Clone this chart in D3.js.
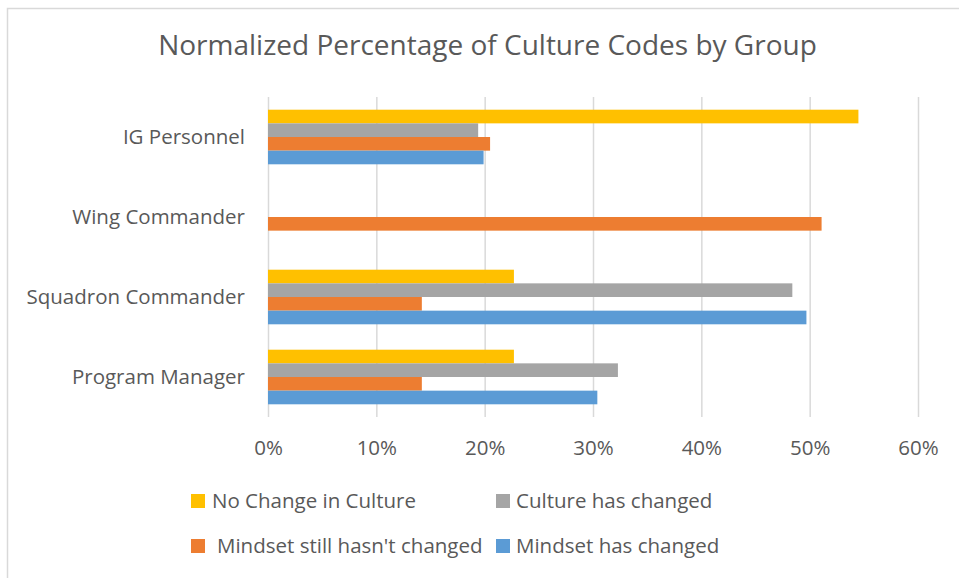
<!DOCTYPE html>
<html>
<head>
<meta charset="utf-8">
<script src="https://cdn.jsdelivr.net/npm/d3@7"></script>
<style>
  html, body { margin: 0; padding: 0; background: #fff; }
  svg { display: block; font-family: "Open Sans", sans-serif; }
</style>
</head>
<body>
<svg id="chart" width="959" height="578"></svg>
<script>
// ---- data ----
const categories = ["IG Personnel", "Wing Commander", "Squadron Commander", "Program Manager"];
const seriesNames = ["No Change in Culture", "Culture has changed", "Mindset still hasn't changed", "Mindset has changed"];
const noChangeInCulture = [0.545, 0, 0.227, 0.227];
const cultureHasChanged = [0.194, 0, 0.484, 0.323];
const mindsetStillNotChanged = [0.205, 0.511, 0.142, 0.142];
const mindsetHasChanged = [0.199, 0, 0.497, 0.304];
const tickValues = [0, 0.1, 0.2, 0.3, 0.4, 0.5, 0.6];
const colors = ["#FFC000", "#A5A5A5", "#ED7D31", "#5B9BD5"];

const seriesValues = [noChangeInCulture, cultureHasChanged, mindsetStillNotChanged, mindsetHasChanged];

const svg = d3.select("#chart");
const textColor = "#595959";

// outer chart border
svg.append("rect")
  .attr("x", 7.5).attr("y", 8.5)
  .attr("width", 1000).attr("height", 1000)
  .attr("fill", "none").attr("stroke", "#d9d9d9").attr("stroke-width", 1.5);

// title
svg.append("text")
  .attr("x", 487.5).attr("y", 55)
  .attr("text-anchor", "middle")
  .attr("font-size", 28)
  .attr("fill", textColor)
  .text("Normalized Percentage of Culture Codes by Group");

const plot = { left: 268, right: 918, top: 97, bottom: 417 };

const x = d3.scaleLinear().domain([0, 0.6]).range([plot.left, plot.right]);
const p = 0.3175;
const y = d3.scaleBand().domain(categories).range([plot.top, plot.bottom])
  .paddingInner(p).paddingOuter(p / 2);
const ySub = d3.scaleBand().domain(seriesNames).range([0, y.bandwidth()]);

// gridlines
const grid = svg.append("g")
  .attr("transform", `translate(0,${plot.bottom})`)
  .call(d3.axisBottom(x).tickValues(tickValues).tickSize(-(plot.bottom - plot.top)).tickFormat(""));
grid.select(".domain").remove();
grid.selectAll("line").attr("stroke", "#d9d9d9").attr("stroke-width", 1.5);

// x tick labels
const xAxis = svg.append("g")
  .attr("transform", `translate(0,${plot.bottom})`)
  .call(d3.axisBottom(x).tickValues(tickValues).tickSize(0).tickFormat(d3.format(".0%")));
xAxis.select(".domain").remove();
xAxis.selectAll("text")
  .attr("y", 38).attr("dy", 0)
  .attr("font-size", 20.5)
  .attr("font-family", "Open Sans, sans-serif")
  .attr("fill", textColor);

// bars
const groups = svg.append("g").selectAll("g")
  .data(categories)
  .join("g")
  .attr("transform", d => `translate(0,${y(d)})`);

groups.selectAll("rect")
  .data((c, i) => seriesNames.map((s, k) => ({ series: s, value: seriesValues[k][i], color: colors[k] })))
  .join("rect")
  .attr("x", x(0))
  .attr("y", d => ySub(d.series))
  .attr("width", d => x(d.value) - x(0))
  .attr("height", ySub.bandwidth())
  .attr("fill", d => d.color);

// y axis labels
const yAxis = svg.append("g")
  .attr("transform", `translate(${plot.left},0)`)
  .call(d3.axisLeft(y).tickSize(0).tickPadding(23));
yAxis.select(".domain").remove();
yAxis.selectAll("text")
  .attr("dy", "0.36em")
  .attr("font-size", 20.5)
  .attr("font-family", "Open Sans, sans-serif")
  .attr("fill", textColor);

// legend
const legendItems = [
  { name: seriesNames[0], color: colors[0], sx: 191, tx: 212, base: 508 },
  { name: seriesNames[1], color: colors[1], sx: 496, tx: 516, base: 508 },
  { name: seriesNames[2], color: colors[2], sx: 191, tx: 217, base: 553 },
  { name: seriesNames[3], color: colors[3], sx: 496, tx: 516, base: 553 }
];
const legend = svg.append("g");
legend.selectAll("rect")
  .data(legendItems)
  .join("rect")
  .attr("x", d => d.sx).attr("y", d => d.base - 14)
  .attr("width", 14).attr("height", 14)
  .attr("fill", d => d.color);
legend.selectAll("text")
  .data(legendItems)
  .join("text")
  .attr("x", d => d.tx).attr("y", d => d.base)
  .attr("font-size", 20.5)
  .attr("fill", textColor)
  .text(d => d.name);
</script>
</body>
</html>
